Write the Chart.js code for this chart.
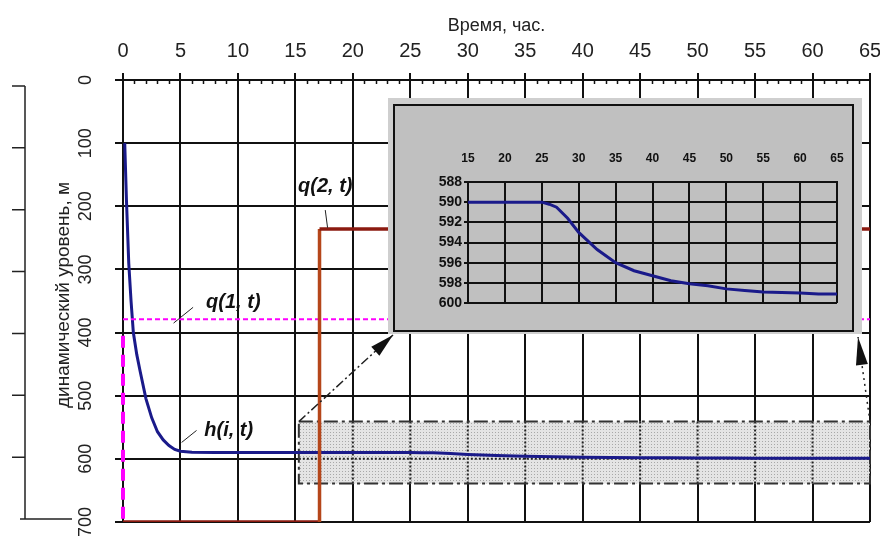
<!DOCTYPE html>
<html>
<head>
<meta charset="utf-8">
<script src="https://cdn.jsdelivr.net/npm/chart.js@4.4.0/dist/chart.umd.min.js"></script>
<style>
  html, body { margin: 0; padding: 0; background: #fff; }
  #wrap { position: relative; width: 880px; height: 538px; }
  #main { position: absolute; left: 0; top: 0; }
  #insetFrame { position: absolute; left: 388px; top: 98px; width: 474px; height: 236px; background: #cfcfcf; }
  #insetBox { position: absolute; left: 393px; top: 104px; width: 457px; height: 224px; border: 2px solid #111; background: #c0c0c0; }
  #inset { position: absolute; left: 0; top: 0; }
</style>
</head>
<body>
<div id="wrap">
  <canvas id="main" width="880" height="538"></canvas>
  <div id="insetFrame"></div>
  <div id="insetBox"><canvas id="inset" width="457" height="224"></canvas></div>
</div>
<script>
// h(i, t) - dynamic level, m
const hTime  = [0.15, 0.3, 0.5, 0.7, 0.9, 1.2, 1.5, 2, 2.5, 3, 3.5, 4, 4.5, 5, 6, 8, 10, 15, 20, 25, 26, 27, 28.5, 30, 32.5, 35, 37.5, 40, 42.5, 45, 47.5, 50, 52.5, 55, 57.5, 60, 62.5, 65];
const hLevel = [100, 190, 290, 350, 400, 435, 462, 505, 535, 557, 570, 579, 585, 588, 589.5, 590, 590, 590, 590, 590, 590.2, 590.5, 591.6, 593.0, 594.7, 596.0, 596.8, 597.3, 597.8, 598.1, 598.3, 598.6, 598.75, 598.9, 598.95, 599.0, 599.1, 599.1];

// q(1, t)
const q1Time  = [0, 65];
const q1Level = [379, 379];
const q1DropTime  = [0, 0];
const q1DropLevel = [405, 700];

// q(2, t)
const q2Time  = [0, 17.1, 17.1, 65];
const q2Level = [700, 700, 236, 236];

const yTickLabels = [0, 100, 200, 300, 400, 500, 600, 700];

// zoomed region (values) shown in the inset
const zoomT0 = 15.3, zoomT1 = 65, zoomH0 = 541, zoomH1 = 639;
const insetFrom = 15;

const pts = (xs, ys) => xs.map((v, i) => ({ x: v, y: ys[i] }));

function stipple() {
  const c = document.createElement('canvas');
  c.width = 3; c.height = 3;
  const g = c.getContext('2d');
  g.fillStyle = '#e4e4e4'; g.fillRect(0, 0, 3, 3);
  g.fillStyle = '#a8a8a8'; g.fillRect(0, 0, 1, 1);
  return g.createPattern(c, 'repeat');
}

function arrow(ctx, xa, ya, xb, yb, dash, len, w) {
  ctx.setLineDash(dash);
  ctx.beginPath(); ctx.moveTo(xa, ya); ctx.lineTo(xb, yb); ctx.stroke();
  const a = Math.atan2(yb - ya, xb - xa);
  ctx.setLineDash([]);
  ctx.beginPath();
  ctx.moveTo(xb, yb);
  ctx.lineTo(xb - len * Math.cos(a) + w * Math.sin(a), yb - len * Math.sin(a) - w * Math.cos(a));
  ctx.lineTo(xb - len * Math.cos(a) - w * Math.sin(a), yb - len * Math.sin(a) + w * Math.cos(a));
  ctx.closePath(); ctx.fill();
}

const mainDecor = {
  id: 'mainDecor',
  beforeDatasetsDraw(chart) {
    const { ctx, scales: { x, y } } = chart;
    const x0 = x.getPixelForValue(zoomT0), x1 = x.getPixelForValue(zoomT1);
    const y0 = y.getPixelForValue(zoomH0), y1 = y.getPixelForValue(zoomH1);
    ctx.save();
    ctx.fillStyle = stipple();
    ctx.fillRect(x0, y0, x1 - x0, y1 - y0);
    ctx.strokeStyle = '#222'; ctx.lineWidth = 2; ctx.setLineDash([2, 2]);
    ctx.beginPath();
    for (let t = 20; t <= 65; t += 5) {
      const px = x.getPixelForValue(t);
      ctx.moveTo(px, y0); ctx.lineTo(px, y1);
    }
    const py = y.getPixelForValue(600);
    ctx.moveTo(x0, py); ctx.lineTo(x1, py);
    ctx.stroke();
    ctx.strokeStyle = '#333'; ctx.setLineDash([14, 4, 3, 4]);
    ctx.strokeRect(x0, y0, x1 - x0, y1 - y0);
    ctx.restore();
  },
  afterDraw(chart) {
    const { ctx, scales: { x, y } } = chart;
    ctx.save();
    // minor ticks on the time axis
    ctx.strokeStyle = '#111'; ctx.lineWidth = 1.5;
    ctx.beginPath();
    for (let t = 1; t < 65; t++) {
      if (t % 5 === 0) continue;
      const px = Math.round(x.getPixelForValue(t)) + 0.5;
      ctx.moveTo(px, y.top); ctx.lineTo(px, y.top + 4);
    }
    ctx.stroke();

    // rotated level labels
    ctx.fillStyle = '#222';
    ctx.font = '18px "Liberation Sans", Arial, sans-serif';
    ctx.textAlign = 'center'; ctx.textBaseline = 'middle';
    yTickLabels.forEach(v => {
      ctx.save();
      ctx.translate(86, y.getPixelForValue(v));
      ctx.rotate(-Math.PI / 2);
      ctx.fillText(String(v), 0, 0);
      ctx.restore();
    });
    ctx.save();
    ctx.translate(64, 295);
    ctx.rotate(-Math.PI / 2);
    ctx.font = '19px "Liberation Sans", Arial, sans-serif';
    ctx.fillText('динамический уровень, м', 0, 0);
    ctx.restore();

    // detached left axis
    ctx.strokeStyle = '#222'; ctx.lineWidth = 1.5;
    const ly = v => 86 + v / 700 * 433;
    ctx.beginPath();
    ctx.moveTo(25, ly(0)); ctx.lineTo(25, ly(700));
    yTickLabels.forEach(v => {
      if (v === 700) { ctx.moveTo(20, ly(v)); ctx.lineTo(72, ly(v)); }
      else { ctx.moveTo(12, ly(v)); ctx.lineTo(25, ly(v)); }
    });
    ctx.stroke();

    // curve labels with leaders
    ctx.font = 'bold italic 20px "Liberation Sans", Arial, sans-serif';
    ctx.fillStyle = '#111';
    const notes = [
      { text: 'q(2, t)', t: 17.6, h: 168, l: [17.6, 206, 17.8, 234] },
      { text: 'q(1, t)', t: 9.6, h: 352, l: [4.4, 385, 6.1, 360] },
      { text: 'h(i, t)', t: 9.2, h: 555, l: [5.1, 574, 6.4, 555] }
    ];
    ctx.lineWidth = 1;
    notes.forEach(n => {
      ctx.fillText(n.text, x.getPixelForValue(n.t), y.getPixelForValue(n.h));
      ctx.beginPath();
      ctx.moveTo(x.getPixelForValue(n.l[0]), y.getPixelForValue(n.l[1]));
      ctx.lineTo(x.getPixelForValue(n.l[2]), y.getPixelForValue(n.l[3]));
      ctx.stroke();
    });

    // arrows from zoomed region to the inset
    ctx.fillStyle = '#111'; ctx.strokeStyle = '#222'; ctx.lineWidth = 1.5;
    arrow(ctx, x.getPixelForValue(zoomT0), y.getPixelForValue(zoomH0), 393, 335, [9, 3, 2, 3], 24, 6);
    arrow(ctx, x.getPixelForValue(zoomT1), y.getPixelForValue(zoomH0), 858, 337, [2, 4], 28, 6);
    ctx.restore();
  }
};

new Chart(document.getElementById('main'), {
  type: 'line',
  data: {
    datasets: [
      { label: 'q(2, t)', data: pts(q2Time, q2Level), borderColor: '#8b1a10', borderWidth: 3.5,
        segment: { borderColor: c => c.p0DataIndex === 1 ? '#b5461a' : '#8b1a10' } },
      { label: 'q(1, t)', data: pts(q1Time, q1Level), borderColor: '#ff00ff', borderWidth: 2, borderDash: [5, 3] },
      { label: 'q(1, t) drop', data: pts(q1DropTime, q1DropLevel), borderColor: '#ff00ff', borderWidth: 4, borderDash: [12, 7], clip: false },
      { label: 'h(i, t)', data: pts(hTime, hLevel), borderColor: '#1a1a8a', borderWidth: 3 }
    ]
  },
  options: {
    responsive: false,
    animation: false,
    elements: { point: { radius: 0 }, line: { tension: 0 } },
    layout: { padding: { left: 0, right: 10, top: 0, bottom: 16 } },
    plugins: { legend: { display: false }, tooltip: { enabled: false } },
    scales: {
      x: {
        type: 'linear', position: 'top', min: 0, max: 65,
        afterFit: s => { s.height = 80; s.paddingLeft = 0; s.paddingRight = 0; },
        ticks: { stepSize: 5, autoSkip: false, maxRotation: 0, padding: 10, color: '#222',
                 font: { size: 20, family: '"Liberation Sans", Arial, sans-serif' } },
        grid: { color: '#111', lineWidth: 2, tickLength: 7 },
        border: { color: '#111', width: 2 },
        title: { display: true, text: 'Время, час.', color: '#222', padding: { top: 15, bottom: 0 },
                 font: { size: 18, family: '"Liberation Sans", Arial, sans-serif' } }
      },
      y: {
        type: 'linear', min: 0, max: 700, reverse: true,
        afterFit: s => { s.width = 123; },
        ticks: { display: false, stepSize: 100 },
        grid: { color: '#111', lineWidth: 2, tickLength: 8 },
        border: { color: '#111', width: 2 }
      }
    }
  },
  plugins: [mainDecor]
});

const insetPts = pts(hTime, hLevel).filter(p => p.x >= insetFrom);

new Chart(document.getElementById('inset'), {
  type: 'line',
  data: { datasets: [{ label: 'h(i, t)', data: insetPts, borderColor: '#1a1a8a', borderWidth: 3 }] },
  options: {
    responsive: false,
    animation: false,
    elements: { point: { radius: 0 }, line: { tension: 0 } },
    layout: { padding: { left: 0, right: 15, top: 0, bottom: 27 } },
    plugins: { legend: { display: false }, tooltip: { enabled: false } },
    scales: {
      x: {
        type: 'linear', position: 'top', min: 15, max: 65,
        afterFit: s => { s.height = 76; s.paddingLeft = 0; s.paddingRight = 0; },
        ticks: { stepSize: 5, autoSkip: false, maxRotation: 0, padding: 16, color: '#111',
                 font: { size: 12, weight: 'bold', family: '"Liberation Sans", Arial, sans-serif' } },
        grid: { color: '#111', lineWidth: 2, drawTicks: false },
        border: { color: '#111', width: 2 }
      },
      y: {
        type: 'linear', min: 588, max: 600, reverse: true,
        afterFit: s => { s.width = 73; },
        ticks: { stepSize: 2, padding: 2, color: '#111',
                 font: { size: 14, weight: 'bold', family: '"Liberation Sans", Arial, sans-serif' } },
        grid: { color: '#111', lineWidth: 2, tickLength: 4 },
        border: { color: '#111', width: 2 }
      }
    }
  }
});
</script>
</body>
</html>
